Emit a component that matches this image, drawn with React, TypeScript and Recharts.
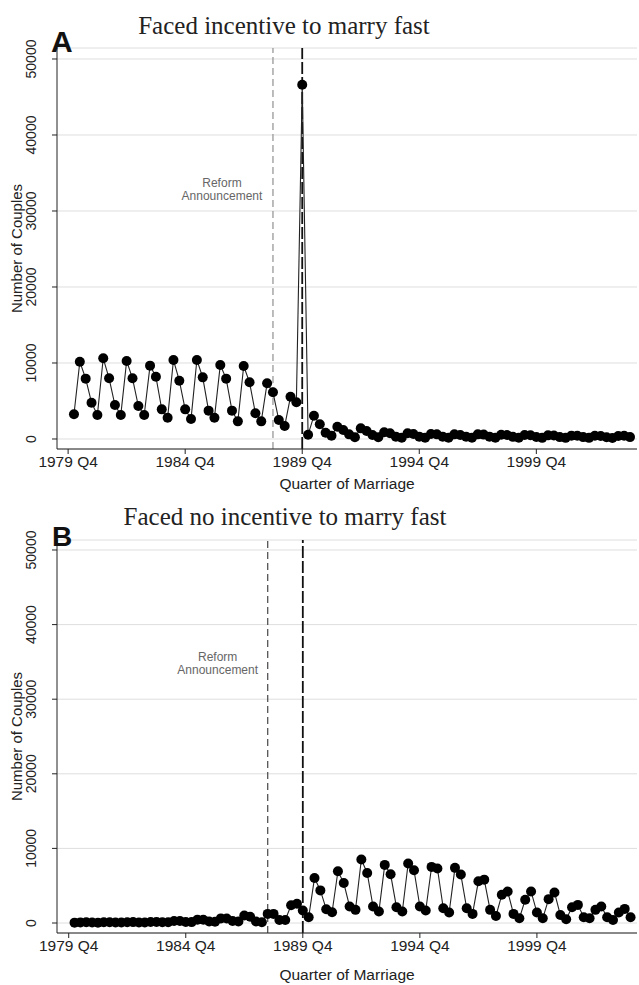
import React from 'react';
import { LineChart, Line, XAxis, YAxis, CartesianGrid, ReferenceLine } from 'recharts';

// quarters counted from 1979 Q4 (= 0); series starts at 1980 Q1
const quarterIndex = Array.from({ length: 96 }, (_, i) => i + 1);

const incentiveCouples = [
  3250, 10170, 7940, 4780, 3160, 10620, 7990, 4470, 3160, 10260, 7990, 4340,
  3160, 9650, 8200, 3900, 2800, 10390, 7670, 3900, 2630, 10390, 8110, 3730,
  2800, 9740, 7940, 3730, 2320, 9610, 7460, 3380, 2320, 7330, 6140, 2500,
  1710, 5570, 4830, 46600, 550, 3070, 1930, 830, 440, 1620, 1190, 610,
  220, 1400, 1050, 530, 220, 880, 750, 310, 180, 750, 660, 310,
  180, 660, 610, 310, 180, 610, 530, 310, 180, 610, 580, 310,
  180, 550, 520, 280, 160, 520, 500, 270, 150, 480, 470, 250,
  150, 440, 430, 250, 150, 420, 400, 230, 140, 400, 420, 250,
];

const noIncentiveCouples = [
  50, 80, 90, 60, 50, 90, 100, 70, 60, 110, 120, 80,
  70, 140, 150, 100, 90, 280, 260, 140, 120, 450, 430, 200,
  160, 620, 600, 260, 200, 1000, 850, 200, 100, 1220, 1220, 400,
  400, 2390, 2570, 1670, 770, 6040, 4370, 1850, 1440, 6940, 5360, 2210,
  1760, 8510, 6710, 2210, 1530, 7790, 6530, 2120, 1530, 7970, 7070, 2210,
  1670, 7520, 7300, 1980, 1400, 7390, 6490, 1980, 1220, 5590, 5810, 1760,
  950, 3780, 4230, 1220, 630, 3110, 4230, 1400, 630, 3200, 4100, 1080,
  500, 2120, 2430, 770, 630, 1760, 2210, 770, 400, 1400, 1890, 770,
];

const xTicks = [0, 20, 40, 60, 80];
const xTickLabels = ['1979 Q4', '1984 Q4', '1989 Q4', '1994 Q4', '1999 Q4'];
const yTicks = [0, 10000, 20000, 30000, 40000, 50000];

const dataA = quarterIndex.map((q, i) => ({ q, couples: incentiveCouples[i] }));
const dataB = quarterIndex.map((q, i) => ({ q, couples: noIncentiveCouples[i] }));

const sans = '"Liberation Sans", Arial, Helvetica, sans-serif';
const serif = '"Liberation Serif", "Times New Roman", serif';

const YTick = ({ y, payload }: any) => (
  <text
    x={31}
    y={y}
    transform={`rotate(-90 31 ${y})`}
    textAnchor="middle"
    dominantBaseline="central"
    fontSize={14}
    fill="#222"
    fontFamily={sans}
  >
    {payload.value}
  </text>
);

const YTitle = ({ viewBox }: any) => {
  const cy = viewBox ? viewBox.y + viewBox.height / 2 : 248;
  return (
    <text
      x={16}
      y={cy}
      transform={`rotate(-90 16 ${cy})`}
      textAnchor="middle"
      dominantBaseline="central"
      fontSize={15}
      fill="#222"
      fontFamily={sans}
    >
      Number of Couples
    </text>
  );
};

const XTitle = ({ viewBox, baseline }: any) => {
  const cx = viewBox ? viewBox.x + viewBox.width / 2 : 347;
  return (
    <text x={cx} y={baseline} textAnchor="middle" fontSize={15.5} fill="#222" fontFamily={sans}>
      Quarter of Marriage
    </text>
  );
};

const AnnouncementLabel = ({ viewBox, dy, dx }: any) => {
  const x = (viewBox ? viewBox.x : 273) + dx;
  const y = (viewBox ? viewBox.y : 48) + dy;
  return (
    <text x={x} y={y} textAnchor="middle" fontSize={12} fill="#666" fontFamily={sans}>
      <tspan x={x}>Reform</tspan>
      <tspan x={x} dy={13}>Announcement</tspan>
    </text>
  );
};

interface PanelProps {
  data: { q: number; couples: number }[];
  height: number;
  top: number;
  bottom: number;
  xAxisHeight: number;
  xDomain: [number, number];
  yDomain: [number, number];
  announcement: number;
  announcementColor: string;
  labelDy: number;
  labelDx: number;
  titleBaseline: number;
}

function Panel({
  data, height, top, bottom, xAxisHeight, xDomain, yDomain,
  announcement, announcementColor, labelDy, labelDx, titleBaseline,
}: PanelProps) {
  return (
    <LineChart width={639} height={height} data={data} margin={{ top, right: 2, bottom, left: 0 }}>
      <CartesianGrid vertical={false} stroke="#dedede" strokeWidth={1} />
      <XAxis
        dataKey="q"
        type="number"
        domain={xDomain}
        allowDataOverflow
        ticks={xTicks}
        tickFormatter={(v: number) => xTickLabels[xTicks.indexOf(v)]}
        height={xAxisHeight}
        tickSize={5}
        tickMargin={2}
        axisLine={{ stroke: '#222' }}
        tickLine={{ stroke: '#222' }}
        tick={{ fontSize: 15.5, fill: '#222', fontFamily: sans }}
        label={<XTitle baseline={titleBaseline} />}
      />
      <YAxis
        type="number"
        domain={yDomain}
        allowDataOverflow
        ticks={yTicks}
        width={57}
        tickSize={5}
        axisLine={{ stroke: '#222' }}
        tickLine={{ stroke: '#222' }}
        tick={<YTick />}
        label={<YTitle />}
      />
      <ReferenceLine
        x={announcement}
        stroke={announcementColor}
        strokeWidth={1.3}
        strokeDasharray="7 4"
        label={<AnnouncementLabel dy={labelDy} dx={labelDx} />}
      />
      <ReferenceLine x={40} stroke="#111" strokeWidth={1.8} strokeDasharray="12 3" />
      <Line
        type="linear"
        dataKey="couples"
        stroke="#222"
        strokeWidth={1.1}
        dot={{ r: 5, fill: '#000', stroke: '#000', strokeWidth: 0 }}
        isAnimationActive={false}
      />
    </LineChart>
  );
}

export default function App() {
  return (
    <div style={{ position: 'absolute', left: 0, top: 0, width: 639, height: 985, background: '#fff' }}>
      <div style={{ position: 'absolute', left: 0, top: 0 }}>
        <Panel
          data={dataA}
          height={500}
          top={48}
          bottom={10}
          xAxisHeight={41}
          xDomain={[-1.9, 97.2]}
          yDomain={[-1316, 51447]}
          announcement={35}
          announcementColor="#999"
          labelDy={139}
          labelDx={-51}
          titleBaseline={489}
        />
      </div>
      <div style={{ position: 'absolute', left: 0, top: 490 }}>
        <Panel
          data={dataB}
          height={495}
          top={50}
          bottom={0}
          xAxisHeight={52}
          xDomain={[-2.0, 97.1]}
          yDomain={[-1340, 51340]}
          announcement={34}
          announcementColor="#555"
          labelDy={121}
          labelDx={-50}
          titleBaseline={490}
        />
      </div>
      <svg
        width={639}
        height={985}
        style={{ position: 'absolute', left: 0, top: 0, pointerEvents: 'none' }}
      >
        <text x={284} y={34} textAnchor="middle" fontSize={25} fill="#222" fontFamily={serif}>
          Faced incentive to marry fast
        </text>
        <text x={51} y={52} fontSize={30} fontWeight="bold" fill="#111" fontFamily={sans}>
          A
        </text>
        <text x={285} y={525} textAnchor="middle" fontSize={25} fill="#222" fontFamily={serif}>
          Faced no incentive to marry fast
        </text>
        <text x={52} y={546} fontSize={28} fontWeight="bold" fill="#111" fontFamily={sans}>
          B
        </text>
      </svg>
    </div>
  );
}
